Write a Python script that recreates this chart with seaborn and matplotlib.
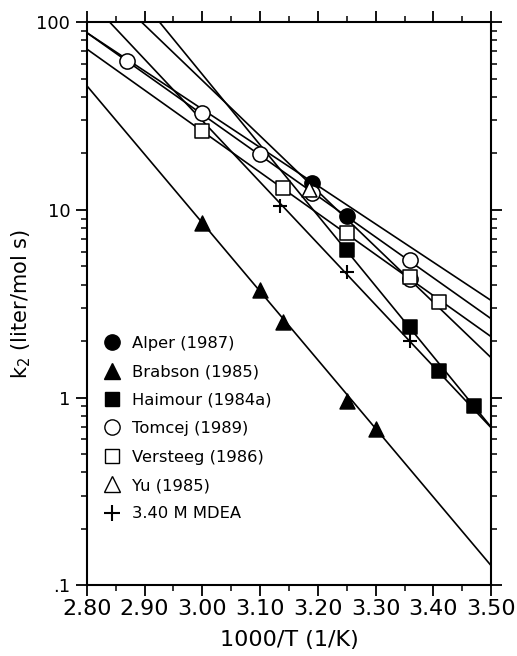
import numpy as np
import pandas as pd
import seaborn as sns
import matplotlib
matplotlib.use("Agg")
import matplotlib.pyplot as plt
from matplotlib.lines import Line2D
from matplotlib.ticker import MultipleLocator, LogLocator, FixedLocator, FixedFormatter, NullFormatter

# Données (1000/T, k2)
alper_x = [3.19, 3.25]
alper_k = [13.9, 9.3]
brabson_x = [3.00, 3.10, 3.14, 3.25, 3.30]
brabson_k = [8.5, 3.75, 2.52, 0.96, 0.68]
haimour_x = [3.25, 3.36, 3.41, 3.47]
haimour_k = [6.1, 2.39, 1.38, 0.90]
tomcej_x = [2.87, 3.00, 3.10, 3.19, 3.36, 3.36]
tomcej_k = [62.4, 32.7, 19.9, 12.3, 5.4, 4.3]
versteeg_x = [3.00, 3.14, 3.25, 3.36, 3.41]
versteeg_k = [26.5, 13.1, 7.5, 4.4, 3.22]
yu_x = [3.185]
yu_k = [12.9]
mdea_x = [3.135, 3.25, 3.36]
mdea_k = [10.5, 4.65, 2.01]

# Droites d'Arrhenius : k2 à 1000/T = 2.80 et 3.50
fit_names = ["Alper", "Brabson", "Haimour", "Tomcej", "Versteeg", "Yu", "MDEA"]
fit_k_start = [191, 45.9, 298, 88, 72, 88, 135]
fit_k_end = [1.63, 0.127, 0.695, 2.63, 2.11, 3.29, 0.69]
fit_x = [2.80, 3.50]

labels = ["Alper (1987)", "Brabson (1985)", "Haimour (1984a)", "Tomcej (1989)",
          "Versteeg (1986)", "Yu (1985)", "3.40 M MDEA"]
xticks = [2.80, 2.90, 3.00, 3.10, 3.20, 3.30, 3.40, 3.50]
yticks = [0.1, 1, 10, 100]
ytick_labels = [".1", "1", "10", "100"]

sns.set_style("ticks")
plt.rcParams['font.family'] = ['DejaVu Sans']
for key in ["text.color", "axes.labelcolor", "xtick.color", "ytick.color"]:
    plt.rcParams[key] = "black"

fig = plt.figure(figsize=(5.17, 6.56), dpi=100)
ax = fig.add_axes([0.168, 0.108, 0.782, 0.858])

rows = []
for name, k0, k1 in zip(fit_names, fit_k_start, fit_k_end):
    rows.append({"serie": name, "x": fit_x[0], "k": k0})
    rows.append({"serie": name, "x": fit_x[1], "k": k1})
fits = pd.DataFrame(rows)
sns.lineplot(data=fits, x="x", y="k", units="serie", estimator=None,
             color="black", lw=1.2, ax=ax, legend=False, zorder=2)

series = [
    (alper_x, alper_k, "o", "black", 120),
    (brabson_x, brabson_k, "^", "black", 115),
    (haimour_x, haimour_k, "s", "black", 90),
    (tomcej_x, tomcej_k, "o", "white", 120),
    (versteeg_x, versteeg_k, "s", "white", 90),
    (yu_x, yu_k, "^", "white", 115),
]
for xs, ks, m, fc, s in series:
    sns.scatterplot(x=xs, y=ks, marker=m, s=s, facecolor=fc, edgecolor="black",
                    linewidth=1.1, ax=ax, zorder=3)
sns.scatterplot(x=mdea_x, y=mdea_k, marker="+", s=110, color="black",
                linewidth=1.5, ax=ax, zorder=3)

ax.set_yscale("log")
ax.set_xlim(2.80, 3.50)
ax.set_ylim(0.1, 100)

ax.xaxis.set_major_locator(FixedLocator(xticks))
ax.set_xticklabels([f"{v:.2f}" for v in xticks], fontsize=16)
ax.xaxis.set_minor_locator(MultipleLocator(0.05))
ax.yaxis.set_major_locator(FixedLocator(yticks))
ax.yaxis.set_major_formatter(FixedFormatter(ytick_labels))
ax.yaxis.set_minor_locator(LogLocator(base=10, subs=np.arange(2, 10)))
ax.yaxis.set_minor_formatter(NullFormatter())

ax.tick_params(which="major", direction="out", length=8, width=1.3,
               top=True, right=True)
ax.tick_params(which="minor", direction="out", length=4, width=1.1,
               top=True, right=True)
ax.tick_params(axis="x", pad=2)
ax.tick_params(axis="y", labelsize=13, pad=4)
for sp in ax.spines.values():
    sp.set_linewidth(1.5)
    sp.set_color("black")

ax.set_xlabel("1000/T (1/K)", fontsize=16, labelpad=8)
ax.set_ylabel("k$_2$ (liter/mol s)", fontsize=15)
ax.yaxis.set_label_coords(-0.134, 0.5)

# Légende : symboles seuls
handles = [
    Line2D([], [], ls="none", marker="o", ms=11, mfc="black", mec="black"),
    Line2D([], [], ls="none", marker="^", ms=11, mfc="black", mec="black"),
    Line2D([], [], ls="none", marker="s", ms=9.5, mfc="black", mec="black"),
    Line2D([], [], ls="none", marker="o", ms=11, mfc="white", mec="black"),
    Line2D([], [], ls="none", marker="s", ms=9.5, mfc="white", mec="black"),
    Line2D([], [], ls="none", marker="^", ms=11, mfc="white", mec="black"),
    Line2D([], [], ls="none", marker="+", ms=11, mew=1.5, color="black"),
]
ax.legend(handles, labels, loc="upper left", bbox_to_anchor=(0.043, 0.443),
          frameon=False, fontsize=11.8, handlelength=1.0, handletextpad=0.72,
          labelspacing=0.82, borderaxespad=0, borderpad=0)

fig.savefig("out.png", dpi=100)
